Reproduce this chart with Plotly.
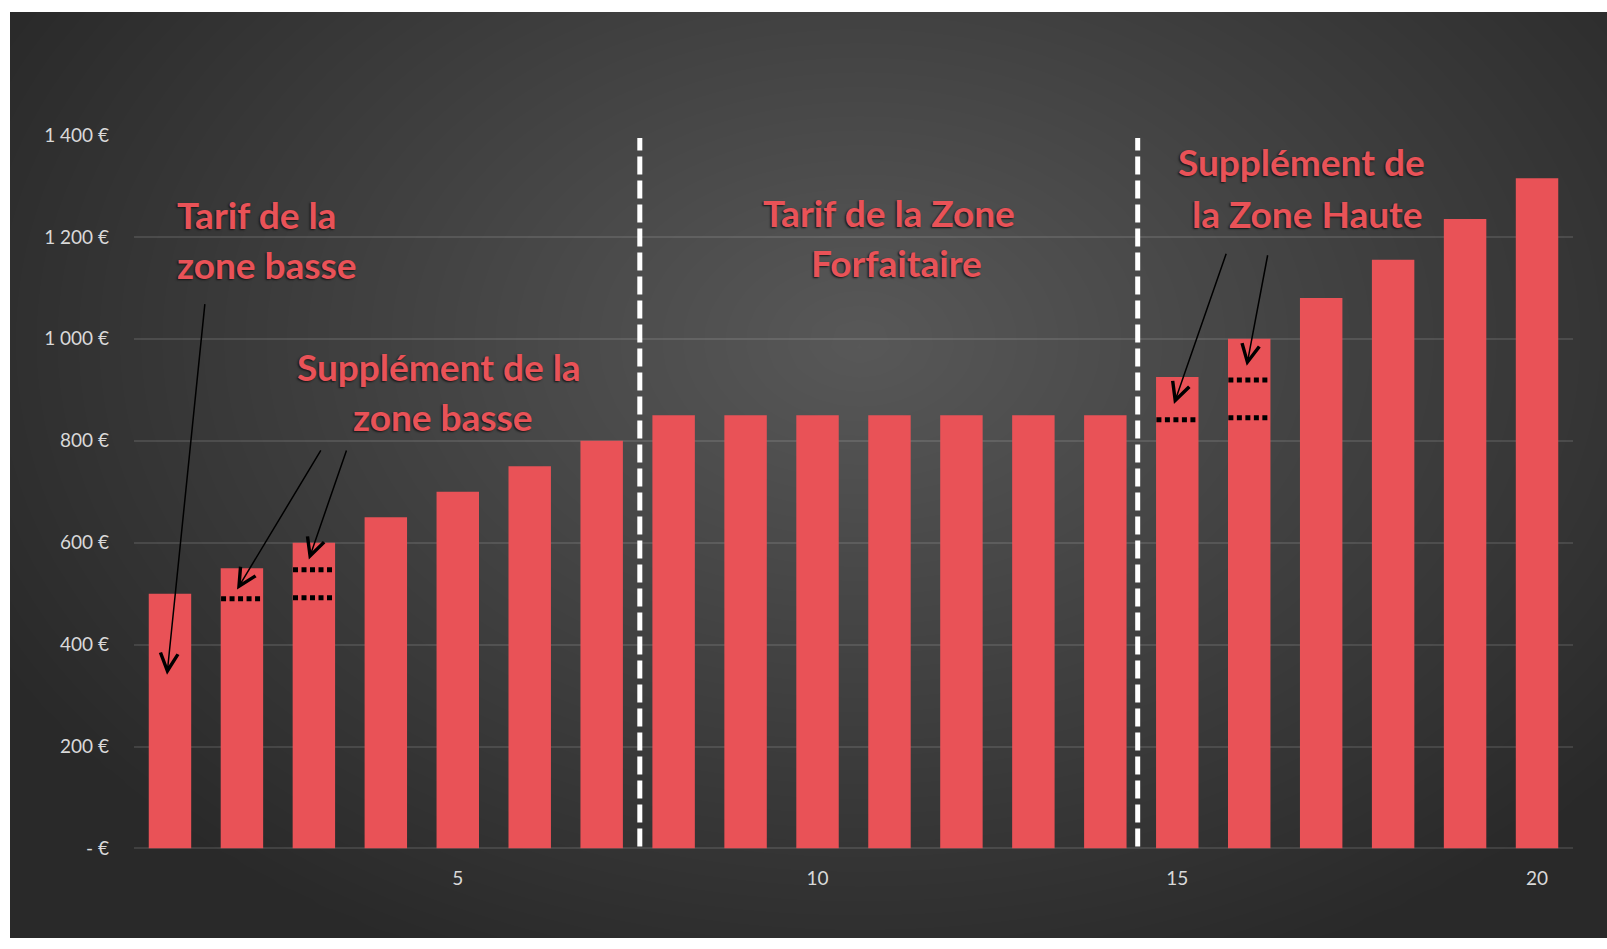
import numpy as np
import plotly.graph_objects as go

# bar data
categories = list(range(1, 21))
tarifs = [500, 550, 600, 650, 700, 750, 800,
          850, 850, 850, 850, 850, 850, 850,
          925, 1000, 1080, 1155, 1235, 1315]

y_tickvals = [0, 200, 400, 600, 800, 1000, 1200, 1400]
y_ticktext = ['- €', '200 €', '400 €', '600 €', '800 €', '1 000 €', '1 200 €', '1 400 €']
x_tickvals = [5, 10, 15, 20]

# zone separators (category position) and dotted base levels on some bars
zone_limits = [7.53, 14.45]
dotted_cats = [2, 3, 3, 15, 16, 16]
dotted_levels = [490, 547, 492, 841, 919, 845]

RED = '#E95257'
W, H = 1607, 949


def fy(p):
    # the page ends up squeezed a little vertically when photographed,
    # so target screen rows are converted back to figure rows
    return (p - 11.7) / 0.9741


fig = go.Figure()

# radial dark background (full paper, pixel axes)
gx = np.linspace(10, W, 80)
gy = np.linspace(0, H, 48)
XX, YY = np.meshgrid(gx, gy)
r = np.sqrt(((XX - 860) / 980.0) ** 2 + ((YY - fy(340)) / 700.0) ** 2)
z = np.clip(1 - r, 0, 1)
fig.add_trace(go.Heatmap(
    x=gx, y=gy, z=z, zsmooth='best', showscale=False, hoverinfo='skip',
    colorscale=[[0, '#292929'], [1, '#585858']], zmin=0, zmax=1,
    xaxis='x', yaxis='y'
))

fig.add_trace(go.Bar(
    x=categories, y=tarifs, width=0.59,
    marker=dict(color=RED, line=dict(width=0)),
    xaxis='x2', yaxis='y2', hoverinfo='x+y'
))

shapes = []
for xl in zone_limits:
    shapes.append(dict(type='line', xref='x2', yref='y2', x0=xl, x1=xl, y0=4, y1=1394,
                       line=dict(color='white', width=5, dash='18px,6px'), layer='above'))
for c, lv in zip(dotted_cats, dotted_levels):
    shapes.append(dict(type='line', xref='x2', yref='y2', x0=c - 0.29, x1=c + 0.29, y0=lv, y1=lv,
                       line=dict(color='black', width=5, dash='5px,3.5px'), layer='above'))

txt_font = dict(family='Lato, Calibri, sans-serif', size=37, color=RED, weight='bold',
                shadow='-1px 1px 2px #151515')
annotations = []
# text lines (pixel positions on the background axes)
lines = [
    ('Tarif de la', 175, 214, 'left'),
    ('zone basse', 175, 264, 'left'),
    ('Supplément de la', 439, 366, 'center'),
    ('zone basse', 443, 416, 'center'),
    ('Tarif de la Zone', 889, 212, 'center'),
    ('Forfaitaire', 896, 262, 'center'),
    ('Supplément de', 1301, 161, 'center'),
    ('la Zone Haute', 1307, 213, 'center'),
]
for t, x, y, anc in lines:
    annotations.append(dict(text=t, x=x, y=fy(y), xref='x', yref='y', showarrow=False,
                            xanchor=anc, yanchor='middle', font=txt_font))

# arrows: (tail x, tail y, head x, head y) in bar-axis coordinates
arrows = [
    (1.487, 1071, 0.959, 341),
    (3.109, 784, 1.932, 508),
    (3.46, 784, 2.93, 567),
    (15.687, 1170, 14.954, 872),
    (16.26, 1167, 15.965, 947),
]
for ax, ay, hx, hy in arrows:
    annotations.append(dict(x=hx, y=hy, ax=ax, ay=ay, xref='x2', yref='y2',
                            axref='x2', ayref='y2', text='', showarrow=True,
                            arrowhead=5, arrowsize=2.3, arrowwidth=1.5, arrowcolor='black'))

grid_col = 'rgba(255,255,255,0.11)'
tick_font = dict(family='Lato, Calibri, sans-serif', size=19, color='#D9D9D9')

fig.update_layout(
    width=W, height=H, autosize=False,
    margin=dict(l=0, r=0, t=0, b=0, pad=0),
    paper_bgcolor='white',
    plot_bgcolor='rgba(0,0,0,0)',
    showlegend=False,
    xaxis=dict(domain=[10 / W, 1], range=[10, W], visible=False, fixedrange=True),
    yaxis=dict(domain=[0, 1], range=[H, 0], visible=False, fixedrange=True),
    xaxis2=dict(domain=[134 / W, 1573 / W], range=[0.5, 20.5], anchor='y2',
                tickvals=x_tickvals, showgrid=False, zeroline=False, showline=False,
                tickfont=tick_font, ticks='', ticklabelstandoff=17),
    yaxis2=dict(domain=[1 - fy(846.7) / H, 1 - fy(134.5) / H], range=[0, 1400], anchor='x2',
                tickvals=y_tickvals, ticktext=y_ticktext, showgrid=True,
                gridcolor=grid_col, gridwidth=1.5, zeroline=True, zerolinecolor=grid_col,
                zerolinewidth=1.5, showline=False, tickfont=tick_font, ticks='',
                ticklabelstandoff=24),
    shapes=shapes,
    annotations=annotations,
)

# pin the figure to the top-left corner of the page
pin_js = (
    "document.body.style.margin='0';"
    "document.body.style.overflow='hidden';"
    "var d=document.getElementById('{plot_id}');"
    "d.style.position='fixed';d.style.left='0px';d.style.top='0px';"
)
fig.write_html("out.html", config={'displayModeBar': False, 'responsive': False},
               post_script=pin_js)
